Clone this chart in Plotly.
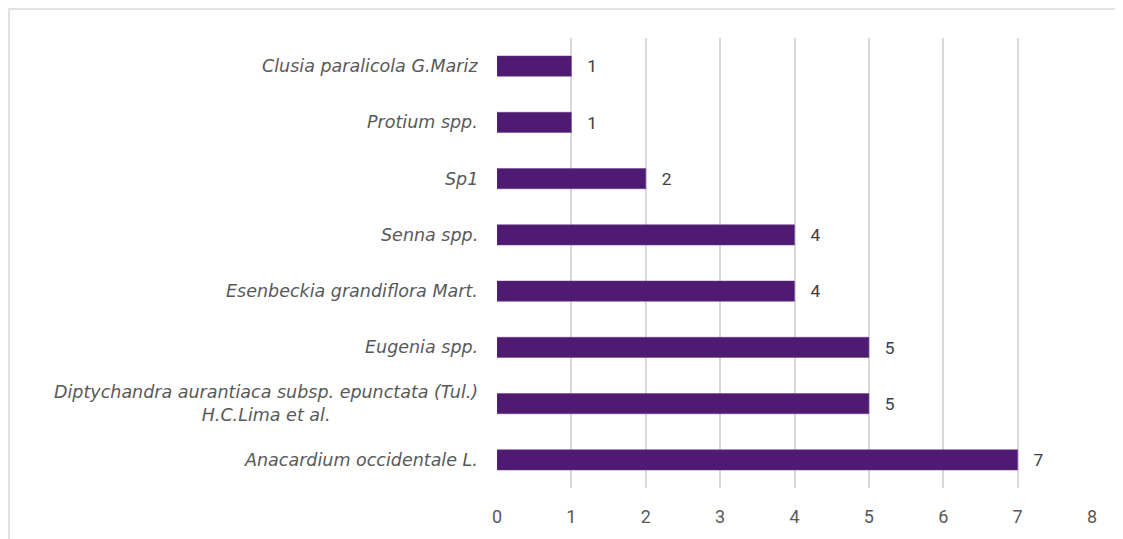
import plotly.graph_objects as go

species = [
    "Anacardium occidentale L.",
    "Diptychandra aurantiaca subsp. epunctata (Tul.)<br>H.C.Lima et al.",
    "Eugenia spp.",
    "Esenbeckia grandiflora Mart.",
    "Senna spp.",
    "Sp1",
    "Protium spp.",
    "Clusia paralicola G.Mariz",
]
counts = [7, 5, 5, 4, 4, 2, 1, 1]
x_ticks = [0, 1, 2, 3, 4, 5, 6, 7, 8]

bar_color = "#4e1a72"
text_gray = "#595959"

fig = go.Figure(go.Bar(
    x=counts, y=species, orientation="h",
    marker=dict(color=bar_color, line=dict(color="#6a3a8c", width=0.5)),
    width=0.36,
    text=counts, texttemplate="\u00a0\u00a0\u00a0%{x}", textposition="outside",
    textfont=dict(family="Roboto", size=18, color="#404040"),
    cliponaxis=False,
))

# species labels as annotations so the two-line one is centred like the original
for name in species:
    fig.add_annotation(
        x=0, xref="paper", y=name, yref="y", text=name,
        xanchor="right", yanchor="middle", align="center", xshift=-17,
        showarrow=False,
        font=dict(family="DejaVu Sans", size=17.5, color=text_gray, style="italic"),
    )

# outer chart border (page has an 8px body margin, so the left edge sits at the svg edge)
fig.add_shape(type="rect", xref="paper", yref="paper",
              x0=-(489 - 1) / 595, x1=1 + 60 / 595,
              y0=-(560 - 488) / 450, y1=1 + (38 - 9) / 450,
              line=dict(color="#d9d9d9", width=1.5), layer="below")

fig.update_layout(
    width=1123, height=539,
    margin=dict(l=489, r=39, t=30, b=59),
    paper_bgcolor="white", plot_bgcolor="white",
    showlegend=False,
    xaxis=dict(range=[0, 8], tickvals=x_ticks, showgrid=True, gridcolor="#d9d9d9", gridwidth=1.5,
               zeroline=False, showline=False, ticks="", ticklabelstandoff=16,
               tickfont=dict(family="Roboto", size=18, color=text_gray)),
    yaxis=dict(showticklabels=False, showgrid=False, zeroline=False,
               categoryorder="array", categoryarray=species),
)

fig.write_html("out.html")
